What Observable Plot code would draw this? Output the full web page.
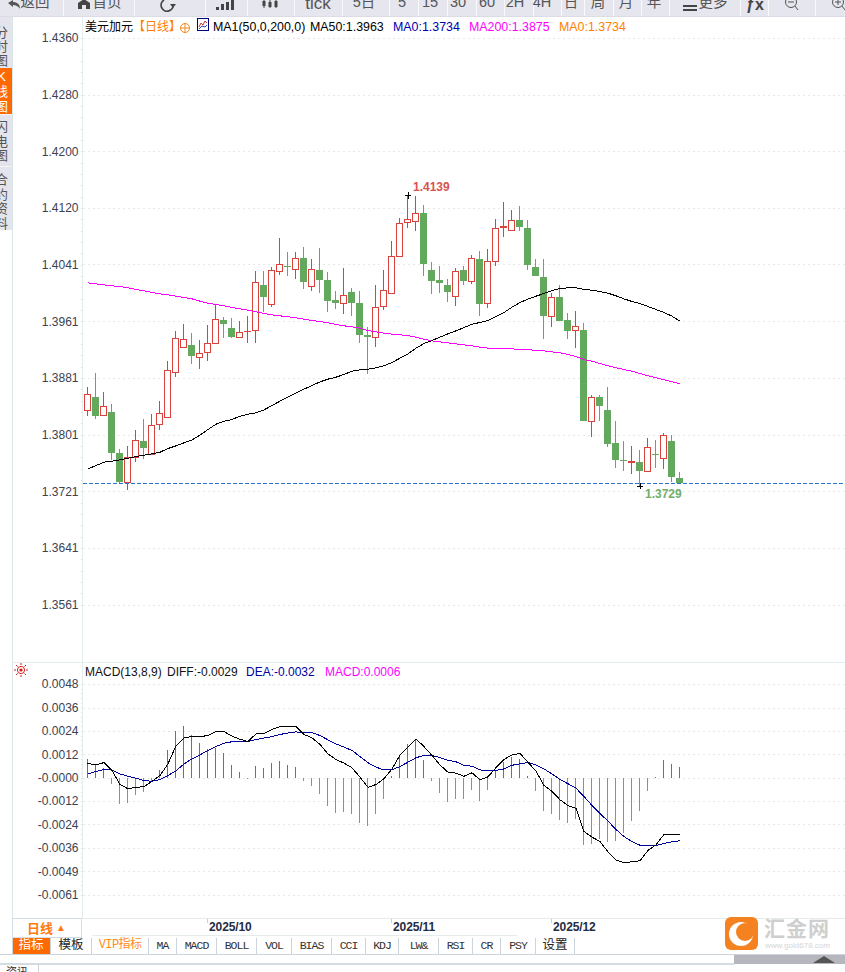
<!DOCTYPE html>
<html><head><meta charset="utf-8">
<script src="https://cdn.jsdelivr.net/npm/d3@7"></script>
<script src="https://cdn.jsdelivr.net/npm/@observablehq/plot@0.6"></script>
<style>
html,body{margin:0;padding:0;background:#fff;}
#page{position:relative;width:845px;height:972px;overflow:hidden;font-family:"Liberation Sans","Noto Sans CJK SC",sans-serif;background:#fff;}
.abs{position:absolute;white-space:nowrap;}
.ci{position:absolute;top:938px;height:16px;border-right:1px solid #ccd4dc;text-align:center;line-height:15px;box-sizing:border-box;color:#222;font-size:12.5px;}
</style></head><body><div id="page"></div>
<script>
// ---------- price data (daily candles, 2025-09-10 .. 2025-12-23) ----------
const open = [1.38351,1.38539,1.38281,1.38314,1.37736,1.37336,1.37689,1.37905,1.37731,1.38154,1.38253,1.38887,1.39240,1.39272,1.39094,1.39169,1.39296,1.39625,1.39512,1.39381,1.39460,1.39479,1.40118,1.39846,1.40311,1.40382,1.40339,1.40499,1.40100,1.40330,1.40175,1.39893,1.39860,1.40006,1.39851,1.39413,1.39381,1.39818,1.40001,1.40523,1.41002,1.41016,1.41120,1.40330,1.40175,1.40118,1.39959,1.40316,1.40165,1.40485,1.39860,1.40452,1.40927,1.40889,1.41021,1.40922,1.40372,1.40231,1.39677,1.39949,1.39611,1.39479,1.39484,1.38196,1.38539,1.38356,1.37877,1.37646,1.37613,1.37609,1.37482,1.37731,1.37670,1.37905,1.37397];
const close = [1.38577,1.38285,1.38408,1.37754,1.37341,1.37689,1.37928,1.37825,1.38140,1.38300,1.38915,1.39366,1.39352,1.39122,1.39155,1.39296,1.39634,1.39573,1.39390,1.39451,1.39465,1.40156,1.39954,1.40325,1.40410,1.40377,1.40494,1.40165,1.40339,1.40194,1.39898,1.39869,1.39973,1.39869,1.39418,1.39390,1.39804,1.40043,1.40523,1.40988,1.41044,1.41129,1.40419,1.40180,1.40156,1.40020,1.40311,1.40189,1.40494,1.39855,1.40452,1.40917,1.40946,1.41030,1.40950,1.40405,1.40259,1.39695,1.39945,1.39611,1.39470,1.39536,1.38201,1.38535,1.38426,1.37877,1.37665,1.37642,1.37632,1.37496,1.37830,1.37726,1.37999,1.37425,1.37340];
const high = [1.38685,1.38882,1.38610,1.38441,1.37806,1.37853,1.38074,1.38234,1.38300,1.38483,1.39047,1.39470,1.39569,1.39442,1.39343,1.39554,1.39851,1.39667,1.39653,1.39611,1.39681,1.40316,1.40316,1.40368,1.40781,1.40584,1.40584,1.40654,1.40485,1.40640,1.40302,1.40034,1.40358,1.40076,1.40034,1.39526,1.40118,1.40330,1.40739,1.41063,1.41390,1.41380,1.41246,1.40443,1.40386,1.40203,1.40358,1.40386,1.40541,1.40598,1.40626,1.41049,1.41289,1.41176,1.41232,1.41035,1.40485,1.40485,1.40006,1.40118,1.39724,1.39752,1.39583,1.38567,1.38567,1.38680,1.38201,1.37919,1.37848,1.37792,1.37961,1.37933,1.38032,1.38003,1.37482];
const low = [1.38271,1.38234,1.38271,1.37651,1.37322,1.37228,1.37623,1.37665,1.37731,1.38074,1.38253,1.38826,1.39240,1.39005,1.38934,1.39047,1.39296,1.39371,1.39371,1.39381,1.39301,1.39301,1.39738,1.39813,1.40259,1.40245,1.40203,1.40062,1.40034,1.40006,1.39738,1.39780,1.39710,1.39681,1.39301,1.38864,1.39244,1.39766,1.40001,1.40523,1.40922,1.40880,1.40245,1.39992,1.40006,1.39879,1.39822,1.40118,1.40133,1.39681,1.39794,1.40386,1.40795,1.40889,1.40880,1.40330,1.40259,1.39357,1.39526,1.39611,1.39357,1.39230,1.38201,1.37975,1.38201,1.37834,1.37538,1.37496,1.37454,1.37290,1.37482,1.37538,1.37524,1.37341,1.37322];
const ma50 = [1.37533,1.37580,1.37627,1.37642,1.37660,1.37684,1.37707,1.37726,1.37745,1.37768,1.37820,1.37858,1.37900,1.37942,1.38008,1.38088,1.38163,1.38206,1.38229,1.38276,1.38304,1.38323,1.38365,1.38426,1.38488,1.38544,1.38600,1.38657,1.38708,1.38760,1.38798,1.38826,1.38864,1.38911,1.38929,1.38939,1.38958,1.38986,1.39033,1.39094,1.39155,1.39235,1.39301,1.39343,1.39390,1.39437,1.39479,1.39526,1.39573,1.39597,1.39625,1.39681,1.39738,1.39813,1.39879,1.39926,1.39968,1.40006,1.40048,1.40076,1.40086,1.40086,1.40062,1.40053,1.40034,1.40010,1.39973,1.39930,1.39893,1.39865,1.39822,1.39780,1.39738,1.39686,1.39616];
const ma200 = [1.40156,1.40142,1.40128,1.40114,1.40104,1.40086,1.40062,1.40043,1.40020,1.40001,1.39987,1.39968,1.39949,1.39930,1.39898,1.39869,1.39851,1.39832,1.39808,1.39789,1.39771,1.39747,1.39724,1.39705,1.39691,1.39677,1.39663,1.39644,1.39625,1.39611,1.39592,1.39569,1.39550,1.39536,1.39517,1.39484,1.39465,1.39446,1.39432,1.39423,1.39413,1.39390,1.39362,1.39338,1.39324,1.39310,1.39296,1.39282,1.39268,1.39249,1.39235,1.39230,1.39230,1.39225,1.39216,1.39211,1.39207,1.39197,1.39183,1.39169,1.39146,1.39117,1.39075,1.39052,1.39019,1.38986,1.38958,1.38934,1.38911,1.38878,1.38845,1.38817,1.38788,1.38760,1.38732];
const lastClose = 1.3733;
const priceTicks = [1.43600,1.42801,1.42002,1.41203,1.40408,1.39605,1.38806,1.38007,1.37208,1.36409,1.35610];
const extremes = [{i:40,p:1.4139,label:"1.4139"}];
const extremesLow = [{i:69,p:1.3729,label:"1.3729"}];
// ---------- MACD data ----------
const macdHist = [0.00097,0.00069,0.00052,-0.00033,-0.00137,-0.00130,-0.00090,-0.00074,-0.00017,0.00040,0.00145,0.00242,0.00268,0.00221,0.00180,0.00147,0.00156,0.00128,0.00066,0.00029,-0.00007,0.00061,0.00050,0.00076,0.00087,0.00066,0.00055,-0.00016,-0.00043,-0.00083,-0.00147,-0.00183,-0.00178,-0.00189,-0.00235,-0.00251,-0.00189,-0.00111,0.00009,0.00118,0.00175,0.00201,0.00092,-0.00016,-0.00080,-0.00126,-0.00111,-0.00111,-0.00064,-0.00121,-0.00064,0.00035,0.00081,0.00107,0.00097,0.00009,-0.00069,-0.00173,-0.00189,-0.00220,-0.00235,-0.00215,-0.00349,-0.00344,-0.00318,-0.00334,-0.00329,-0.00287,-0.00225,-0.00173,-0.00069,0.00003,0.00092,0.00071,0.00055];
const diff = [0.00076,0.00069,0.00081,0.00040,-0.00033,-0.00055,-0.00047,-0.00045,-0.00016,0.00014,0.00074,0.00168,0.00209,0.00216,0.00216,0.00221,0.00242,0.00242,0.00218,0.00202,0.00190,0.00230,0.00232,0.00253,0.00268,0.00268,0.00268,0.00227,0.00209,0.00175,0.00126,0.00097,0.00078,0.00054,0.00005,-0.00047,-0.00033,-0.00003,0.00048,0.00119,0.00161,0.00204,0.00164,0.00118,0.00069,0.00031,0.00026,0.00010,0.00028,-0.00009,0.00007,0.00055,0.00097,0.00121,0.00128,0.00083,0.00036,-0.00038,-0.00069,-0.00112,-0.00142,-0.00156,-0.00277,-0.00306,-0.00329,-0.00382,-0.00424,-0.00439,-0.00434,-0.00429,-0.00375,-0.00346,-0.00292,-0.00292,-0.00294];
const dea = [0.00022,0.00035,0.00045,0.00043,0.00022,0.00010,0,-0.00012,-0.00016,-0.00007,0.00014,0.00038,0.00074,0.00100,0.00121,0.00144,0.00164,0.00182,0.00189,0.00190,0.00190,0.00201,0.00208,0.00216,0.00227,0.00234,0.00240,0.00235,0.00237,0.00221,0.00199,0.00178,0.00161,0.00144,0.00112,0.00080,0.00057,0.00043,0.00043,0.00061,0.00083,0.00106,0.00118,0.00118,0.00107,0.00093,0.00085,0.00066,0.00062,0.00043,0.00038,0.00040,0.00048,0.00067,0.00074,0.00081,0.00069,0.00048,0.00022,-0.00007,-0.00029,-0.00052,-0.00095,-0.00142,-0.00183,-0.00223,-0.00266,-0.00303,-0.00329,-0.00348,-0.00351,-0.00349,-0.00339,-0.00330,-0.00325];
const macdTicks = [0.00486,0.00364,0.00243,0.00121,0,-0.00121,-0.00243,-0.00364,-0.00486,-0.00607];
const macdLabels = ["0.0048","0.0036","0.0024","0.0012","-0.0000","-0.0012","-0.0024","-0.0036","-0.0049","-0.0061"];
// ---------- time axis ----------
const monthIndex = [15,38,58];
const monthLabels = ["2025/10","2025/11","2025/12"];
// ---------- text ----------
const toolbarSeps = [63,134,205,247,294,342,389,418,447,476,504,533,561,584,613,641,669,740,768,815];
const toolbarText = [["返回",35],["首页",107],["5日",364],["5",402],["15",430],["30",458],["60",487],["2H",515],["4H",542],["日",571],["周",598],["月",626],["年",654],["更多",713]];
const bottomCells = [["指标",12,51],["模板",51,92],["VIP指标",92,149],["MA",149,177],["MACD",177,217],["BOLL",217,257],["VOL",257,292],["BIAS",292,332],["CCI",332,366],["KDJ",366,399],["LW&",399,439],["RSI",439,473],["CR",473,501],["PSY",501,536],["设置",536,575]];

const page = document.getElementById("page");
const FONT = '"Liberation Sans","Noto Sans CJK SC",sans-serif';
const RED="#d9423c", GREEN="#62a95e", BRED="#cc4a44", BGREEN="#6aa866", AXIS="#dbe6e8";

const candles = open.map((o,i)=>({i,open:o,close:close[i],high:high[i],low:low[i]}));
const upC = candles.filter(d=>d.close>=d.open), downC = candles.filter(d=>d.close<d.open);
const xScale = {domain:[-0.5625,94.9375],range:[83,847]};
const XL=-0.8125, XA=-0.5625, XR=94.9375;
const crisp = "crispEdges";

function place(svg,top){ svg.style.position="absolute"; svg.style.left="0"; svg.style.top=top+"px"; svg.style.background="transparent"; page.appendChild(svg); }

function priceY(p){return 180+(1.41599-p)/0.000141;}
const T1=17;
const minor1 = d3.range(0,51).map(k=>1.436-k*0.001598);
const main = Plot.plot({
  width:845,height:643,marginLeft:83,marginRight:0,marginTop:0,marginBottom:0,
  style:{fontFamily:FONT,overflow:"visible"},
  x:{...xScale,axis:null},
  y:{domain:[1.4360,1.3561],range:[priceY(1.4360)-T1,priceY(1.3561)-T1]},
  marks:[
    Plot.ruleY(priceTicks,{x1:XA,x2:XR,stroke:"#e8e8e8",strokeDasharray:"2,3",shapeRendering:crisp}),
    Plot.ruleY(minor1,{x1:XL,x2:XA,stroke:"#d5dcdc",shapeRendering:crisp}),
    Plot.axisY(priceTicks,{anchor:"left",tickSize:0,tickPadding:5,label:null,tickFormat:d=>d.toFixed(4),fontSize:12,fill:"#3b4252"}),
    Plot.ruleY([lastClose],{x1:XA,x2:XR,stroke:"#2a74d0",strokeDasharray:"4,2",shapeRendering:crisp}),
    Plot.ruleX(upC,{x:"i",y1:"low",y2:"high",stroke:RED,dx:-0.5,shapeRendering:crisp}),
    Plot.ruleX(downC,{x:"i",y1:"low",y2:"high",stroke:GREEN,dx:-0.5,shapeRendering:crisp}),
    Plot.rect(upC,{x1:d=>d.i-0.375,x2:d=>d.i+0.375,y1:"open",y2:"close",fill:"#fff",stroke:RED,strokeWidth:1,shapeRendering:crisp}),
    Plot.rect(downC,{x1:d=>d.i-0.375,x2:d=>d.i+0.375,y1:"open",y2:"close",fill:GREEN,stroke:GREEN,strokeWidth:1,shapeRendering:crisp}),
    Plot.lineY(ma200,{x:(d,i)=>i,y:d=>d,stroke:"#ff00ff",strokeWidth:1,shapeRendering:crisp}),
    Plot.lineY(ma50,{x:(d,i)=>i,y:d=>d,stroke:"#000",strokeWidth:1,shapeRendering:crisp}),
    Plot.dot(extremes,{x:"i",y:"p",symbol:"plus",r:2.3,stroke:"#000",strokeWidth:1,shapeRendering:crisp}),
    Plot.dot(extremesLow,{x:"i",y:"p",symbol:"plus",r:2.3,stroke:"#000",strokeWidth:1,shapeRendering:crisp}),
    Plot.text(extremes,{x:"i",y:"p",text:"label",dx:5,dy:-8,textAnchor:"start",fill:"#d9534f",fontWeight:"bold",fontSize:12}),
    Plot.text(extremesLow,{x:"i",y:"p",text:"label",dx:5,dy:8.5,textAnchor:"start",fill:"#6fae6a",fontWeight:"bold",fontSize:12})
  ]
});
place(main,T1);

const T2=660;
const perPx=0.0000519;
const y0=777.67-T2;
const macdHistData = macdHist.map((v,i)=>({i,v}));
const minor2 = d3.range(0,46).map(k=>0.00486-k*0.000243);
const macd = Plot.plot({
  width:845,height:255,marginLeft:83,marginRight:0,marginTop:0,marginBottom:0,
  style:{fontFamily:FONT,overflow:"visible"},
  x:{...xScale,axis:null},
  y:{domain:[0.00486,-0.00607],range:[y0-0.00486/perPx,y0+0.00607/perPx]},
  marks:[
    Plot.ruleY(macdTicks,{x1:XA,x2:XR,stroke:"#e8e8e8",strokeDasharray:"2,3",shapeRendering:crisp}),
    Plot.ruleY(minor2,{x1:XL,x2:XA,stroke:"#dde3e3",shapeRendering:crisp}),
    Plot.axisY(macdTicks,{anchor:"left",tickSize:0,tickPadding:5,label:null,tickFormat:d=>macdLabels[macdTicks.indexOf(d)],fontSize:12,fill:"#3b4252"}),
    Plot.ruleX(macdHistData.filter(d=>d.v>=0),{x:"i",y1:0,y2:"v",stroke:BRED,dx:-0.5,shapeRendering:crisp}),
    Plot.ruleX(macdHistData.filter(d=>d.v<0),{x:"i",y1:0,y2:"v",stroke:BGREEN,dx:-0.5,shapeRendering:crisp}),
    Plot.lineY(dea,{x:(d,i)=>i,y:d=>d,stroke:"#000099",strokeWidth:1,shapeRendering:crisp}),
    Plot.lineY(diff,{x:(d,i)=>i,y:d=>d,stroke:"#000",strokeWidth:1,shapeRendering:crisp})
  ]
});
place(macd,T2);

function box(l,t,w,h,bg,extra){const d=document.createElement("div");d.className="abs";d.style.cssText+=`left:${l}px;top:${t}px;width:${w}px;height:${h}px;background:${bg};`+(extra||"");page.appendChild(d);return d;}
function txt(s,l,t,color,size,extra){const d=document.createElement("div");d.className="abs";d.textContent=s;d.style.cssText+=`left:${l}px;top:${t}px;color:${color};font-size:${size}px;line-height:${size+2}px;`+(extra||"");page.appendChild(d);return d;}
function icon(l,t,w,h,inner){const d=document.createElement("div");d.className="abs";d.style.cssText+=`left:${l}px;top:${t}px;width:${w}px;height:${h}px;`;d.innerHTML=`<svg width="${w}" height="${h}" viewBox="0 0 ${w} ${h}" style="display:block">${inner}</svg>`;page.appendChild(d);return d;}

// axis frame lines
box(12,17,1,921,AXIS);
box(82,17,1,901,"#e4ecee");
box(12,662,833,1,"#e4eeee");

// header line
txt("美元加元",85,20,"#000",12);
txt("【日线】",133,20,"#ff8000",12);
icon(179,22,12,12,'<circle cx="6" cy="6" r="4.5" fill="none" stroke="#f08a1e"/><path d="M1 6H11M6 1V11" stroke="#f08a1e"/>');
icon(197,18,12,13,'<rect x=".5" y=".5" width="11" height="12" fill="#fff" stroke="#000080"/><path d="M2 9L4 5L6 7L8 3L10 5" fill="none" stroke="#d03030"/><path d="M2 11L5 8L8 9L10 7" fill="none" stroke="#3040c0"/>');
txt("MA1(50,0,200,0)",213,20,"#000",12.4);
txt("MA50:1.3963",310,20,"#000",12.4);
txt("MA0:1.3734",393,20,"#0000b0",12.4);
txt("MA200:1.3875",469,20,"#ff00ff",12.4);
txt("MA0:1.3734",559,20,"#ff8000",12.4);

// MACD header
icon(14,663,14,14,'<circle cx="7" cy="7" r="3.6" fill="none" stroke="#d02020"/><circle cx="7" cy="7" r="1.6" fill="#e01010"/><path d="M7 0V2M7 12V14M0 7H2M12 7H14M2 2L3.5 3.5M10.5 10.5L12 12M2 12L3.5 10.5M10.5 3.5L12 2" stroke="#d02020"/>');
txt("MACD(13,8,9)",85,665,"#111",12);
txt("DIFF:-0.0029",167,665,"#111",12);
txt("DEA:-0.0032",246,665,"#0000a0",12);
txt("MACD:0.0006",325,665,"#ff00ff",12);

// top toolbar
box(0,0,845,16,"#e6e6ee");
toolbarSeps.forEach(x=>box(x,0,1,16,"#fafafd"));
toolbarText.forEach(([s,cx])=>{txt(s,cx,-6,"#555",14.5,"transform:translateX(-50%);");});
txt("tick",318,-6,"#555",17,"transform:translateX(-50%);");
txt("ƒx",746,-4,"#444",16,"font-weight:bold;");
box(0,16,845,1,"#dcdce6");
icon(8,0,13,9,'<path d="M0 3L5 0V2C9 2 12 4 12 9C10 6 8 5 5 5V7Z" fill="#555"/>');
icon(77,0,14,9,'<path d="M1 3L7 -1L13 3V9H9V5H5V9H1Z" fill="#444"/>');
icon(158,0,20,12,'<path d="M6 0A6 6 0 1 0 15 4" fill="none" stroke="#444" stroke-width="1.7"/><path d="M12 4H18L15 8Z" fill="#444"/>');
icon(215,0,20,11,'<path d="M1 10V7H4V10ZM6 10V4H9V10ZM11 10V2H14V10ZM16 10V0H19V10Z" fill="#444"/>');
icon(262,0,18,9,'<path d="M2 0V8M8 0V8M14 0V8" stroke="#444"/><rect x=".5" y="1" width="3" height="5" fill="#444"/><rect x="6.5" y="2" width="3" height="5" fill="#444"/><rect x="12.5" y="1" width="3" height="6" fill="#444"/>');
icon(683,5,14,7,'<rect y="0" width="14" height="2" fill="#444"/><rect y="4" width="14" height="2" fill="#444"/>');
icon(784,0,16,12,'<circle cx="7" cy="2" r="5.5" fill="none" stroke="#555"/><path d="M4 2H10M11 6L14 10" stroke="#555"/>');
icon(830,0,15,12,'<circle cx="8" cy="2" r="5.5" fill="none" stroke="#555"/><path d="M5 2H11M8 -1V5M12 6L15 10" stroke="#555"/>');

// left tabs
box(0,17,12,213,"#e4e4ec");
box(0,68,12,46,"#ff6a00");
box(0,114,12,1,"#f4f4f8");
box(0,166,12,1,"#f4f4f8");
function vtab(chars,top,step,color){const w=box(0,0,12,0,"transparent","overflow:hidden;");w.style.cssText+=`left:0;top:17px;width:12px;height:213px;`;
  chars.forEach((c,k)=>{const s=document.createElement("div");s.textContent=c;s.style.cssText=`position:absolute;left:-5px;top:${top-17+k*step}px;font-size:13px;line-height:14px;width:13px;text-align:center;color:${color};`;w.appendChild(s);});}
vtab(["分","时","图"],26,14,"#555");
vtab(["K","线","图"],70,15,"#fff");
vtab(["闪","电","图"],120,14.5,"#555");
vtab(["合","约","资","料"],173,14.5,"#555");

// time axis row
box(12,918,833,1,"#e6ecec");
box(92,935,425,1,"#e6ecec");
box(12,918,70,20,"#fff","border:1px solid #d5dde2;box-sizing:border-box;");
txt("日线",27,921,"#ff7a10",13,"font-weight:bold;");
txt("▲",56,922,"#ff7a10",10);
const xpos = d3.scaleLinear(xScale.domain,xScale.range);
monthIndex.forEach((m,k)=>{box(Math.floor(xpos(m)),919,1,4,"#c8d0d0");txt(monthLabels[k],Math.floor(xpos(m))+2,920,"#222d44",12,"font-weight:bold;letter-spacing:-.1px;");});

// indicator tabs
bottomCells.forEach(([s,l,r],k)=>{const d=document.createElement("div");d.className="ci";d.textContent=s;
  d.style.left=l+"px";d.style.width=(r-l)+"px";
  if(/^[A-Z&]+$/.test(s)) d.style.cssText+='font-family:"Liberation Mono",monospace;font-size:11.5px;letter-spacing:-1px;color:#333;';
  if(s==="VIP指标") d.style.cssText+='font-family:"Liberation Mono","Noto Sans CJK SC",monospace;color:#ff8a1e;font-size:12px;letter-spacing:-.6px;';
  if(k===0){d.style.background="#ff6a00";d.style.color="#fff";}
  page.appendChild(d);});
box(12,938,1,16,"#ccd4dc");
box(0,954,845,1,"#ccd4dc");
box(0,963,734,2,"#d3dbe3");
box(734,955,111,9,"#b6b6be");
icon(812,955,24,9,'<path d="M12 1L23 8H1Z" fill="#555"/>');
box(38,964,1,8,"#ccd4dc");
txt("资讯",6,966,"#333",11);

// watermark
box(725,917,33,33,"#f58220","border-radius:6px;");
icon(728,921,27,26,'<circle cx="13" cy="13" r="12" fill="#fff"/><circle cx="17" cy="11" r="9" fill="#f58220"/>');
txt("汇金网",764,917,"#cfcfcf",21,"font-weight:bold;letter-spacing:1px;");
txt("www.gold678.com",765,941,"#d5d5d5",8);
</script></body></html>
